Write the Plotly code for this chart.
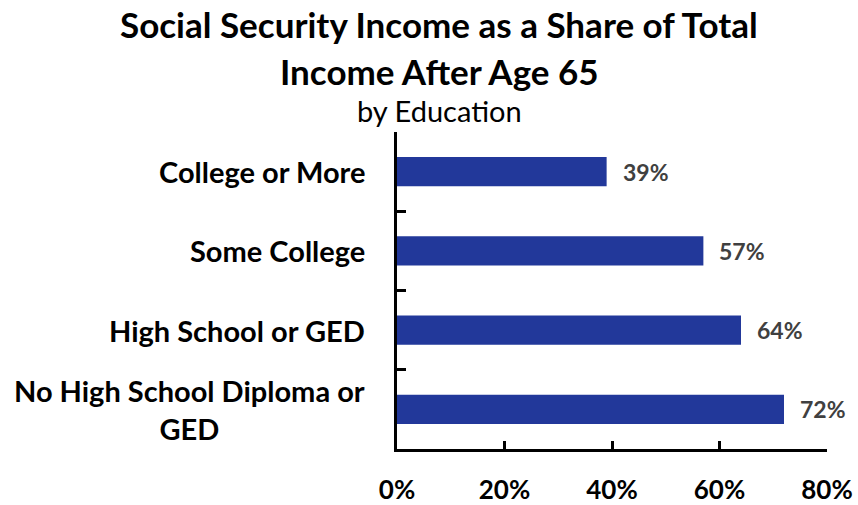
import plotly.graph_objects as go

categories = ["College or More", "Some College", "High School or GED", "No High School Diploma or<br>GED"]
values = [39, 57, 64, 72]
value_labels = ["39%", "57%", "64%", "72%"]
x_ticks = [0, 20, 40, 60, 80]
x_tick_labels = ["0%", "20%", "40%", "60%", "80%"]

title_lines = ["Social Security Income as a Share of Total", "Income After Age 65"]
subtitle_text = "by Education"

W, H = 858, 505
L, R, T, B = 397, 31, 132, 56
FONT = "Lato"
BAR = "#22389A"

def py2paper(py):
    return (H - B - py) / (H - T - B)

def px2paper(px):
    return (px - L) / (W - L - R)

fig = go.Figure()
fig.add_trace(go.Bar(
    x=values, y=categories, orientation="h",
    marker=dict(color=BAR, line=dict(width=0)),
    width=0.37, hoverinfo="skip",
))

ann = []
for line, py in zip(title_lines, [24, 71]):
    ann.append(dict(text="<b>" + line + "</b>", xref="paper", yref="paper", x=px2paper(439), y=py2paper(py),
                    xanchor="center", yanchor="middle", showarrow=False, align="center",
                    font=dict(family=FONT, size=35, color="#000000")))
ann.append(dict(text=subtitle_text, xref="paper", yref="paper", x=px2paper(439), y=py2paper(110),
                xanchor="center", yanchor="middle", showarrow=False,
                font=dict(family=FONT, size=29, color="#000000")))
for c in categories:
    ann.append(dict(text="<b>" + c + "</b>", xref="paper", yref="y", x=0, y=c, xshift=-30,
                    xanchor="right", yanchor="middle", showarrow=False, align="center",
                    font=dict(family=FONT, size=29, color="#000000")))
for c, v, t in zip(categories, values, value_labels):
    ann.append(dict(text="<b>" + t + "</b>", xref="x", yref="y", x=v, y=c, xshift=14,
                    xanchor="left", yanchor="middle", showarrow=False,
                    font=dict(family=FONT, size=23, color="#404040")))

fig.update_layout(
    width=W, height=H,
    margin=dict(l=L, r=R, t=T, b=B, autoexpand=False),
    paper_bgcolor="white", plot_bgcolor="white",
    showlegend=False,
    annotations=ann,
    xaxis=dict(range=[0, 80], tickvals=x_ticks, ticktext=x_tick_labels,
               showgrid=False, zeroline=False, showline=True, linecolor="black", linewidth=3,
               ticks="inside", ticklen=8, tickwidth=3, tickcolor="black",
               ticklabelstandoff=16,
               tickfont=dict(family=FONT, size=26, color="black", weight="bold")),
    yaxis=dict(type="category", categoryarray=categories[::-1], range=[-0.5, 3.5],
               showgrid=False, zeroline=False, showline=True, linecolor="black", linewidth=3,
               ticks="inside", ticklen=9, tickwidth=3, tickcolor="black",
               tickson="boundaries", showticklabels=False),
)

fig.write_html("out.html", config={"displayModeBar": False},
               post_script="document.body.style.margin='0';document.body.style.overflow='hidden';")
